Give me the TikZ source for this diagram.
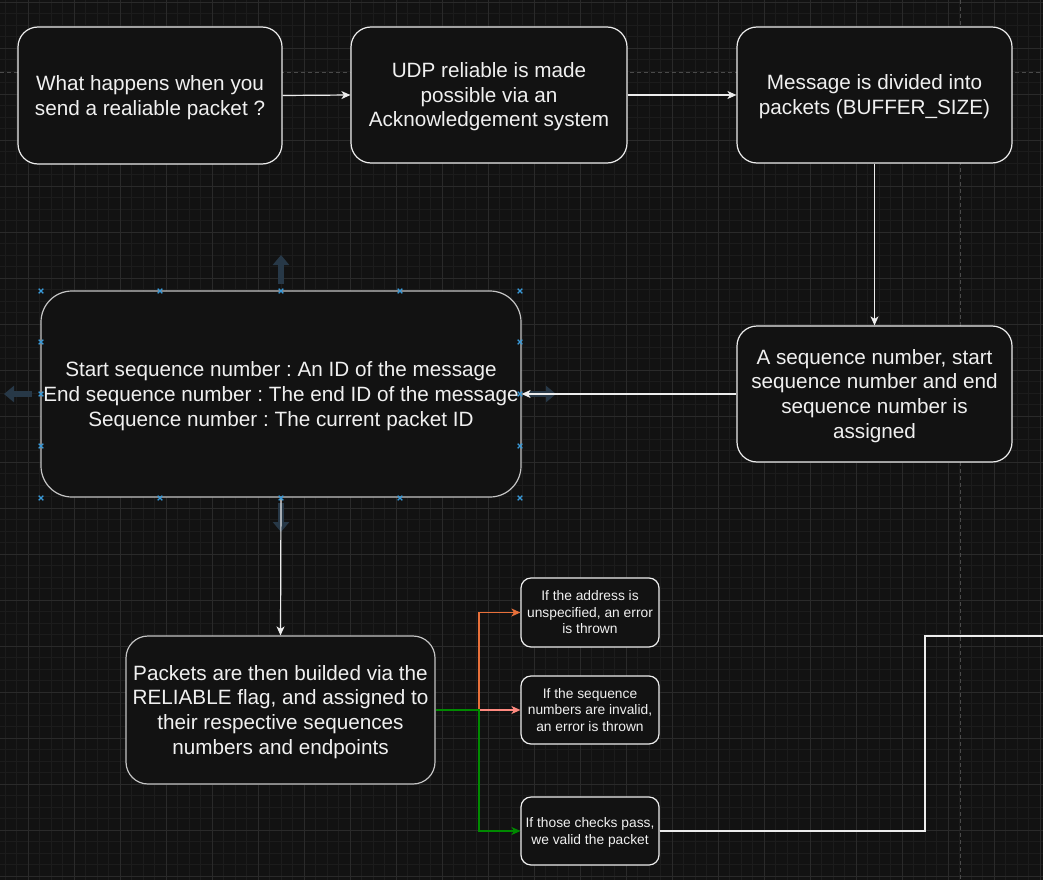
\documentclass[tikz,border=0pt]{standalone}
\usepackage{fontspec}
\setmainfont{Liberation Sans}
\usetikzlibrary{arrows.meta}
\frenchspacing
\definecolor{bg}{HTML}{121212}
\definecolor{gridminor}{HTML}{1C1C1C}
\definecolor{gridmajor}{HTML}{2A2A2A}
\definecolor{guide}{HTML}{4A4A4A}
\definecolor{stroke}{HTML}{EDEDED}
\definecolor{strokesel}{HTML}{C4C4C4}
\definecolor{txt}{HTML}{F0F0F0}
\definecolor{orangeedge}{HTML}{E8703A}
\definecolor{pinkedge}{HTML}{FF8A80}
\definecolor{greenedge}{HTML}{008A00}
\definecolor{handlecol}{HTML}{3A9AD9}
\definecolor{hintcol}{HTML}{273847}
\newcommand{\bT}{\rule{0pt}{19.6pt}}
\newcommand{\bB}{\rule[-5.2pt]{0pt}{0pt}}
\newcommand{\sT}{\rule{0pt}{13pt}}
\newcommand{\sB}{\rule[-3.5pt]{0pt}{0pt}}
\tikzset{
  box/.style={draw=stroke, fill=bg, line width=1.2pt, align=center, inner sep=0pt, text=txt},
  bigtext/.style={font=\fontsize{20.7}{24.8}\selectfont},
  smalltext/.style={font=\fontsize{13.8}{16.5}\selectfont},
  arr/.style={draw=stroke, line width=1.2pt, -{Stealth[length=9pt,width=8pt,inset=2.5pt]}},
  hint/.style={draw=hintcol, line width=6pt, -{Triangle[length=10pt,width=16pt]}},
  hx/.pic={\draw[handlecol, line width=1.3pt] (-2.3,-2.3)--(2.3,2.3) (-2.3,2.3)--(2.3,-2.3);}
}
\begin{document}
\begin{tikzpicture}[x=1pt,y=-1pt]
\useasboundingbox (0,0) rectangle (1043,880);
\clip (0,0) rectangle (1043,880);
\fill[bg] (0,0) rectangle (1043,880);
% grid
\foreach \k in {0,...,91} {\draw[gridminor, line width=0.8pt] (5+11.5*\k,0) -- (5+11.5*\k,880);}
\foreach \k in {0,...,77} {\draw[gridminor, line width=0.8pt] (0,2+11.5*\k) -- (1043,2+11.5*\k);}
\foreach \k in {-1,...,22} {\draw[gridmajor, line width=0.8pt] (28+46*\k,0) -- (28+46*\k,880);}
\foreach \k in {0,...,19} {\draw[gridmajor, line width=0.8pt] (0,2+46*\k) -- (1043,2+46*\k);}
% guides
\draw[guide, line width=0.8pt, dash pattern=on 4pt off 3pt] (0,72) -- (1043,72);
\draw[guide, line width=0.8pt, dash pattern=on 4pt off 3pt] (960,0) -- (960,880);
% hint arrows
\draw[hint] (281,284) -- (281,255);
\draw[hint] (32,394) -- (4,394);
\draw[hint] (528,394) -- (556,394);
\draw[hint] (281,503) -- (281,532);
% nodes
\node[box, bigtext, rounded corners=20pt, minimum width=264pt, minimum height=137pt] (A) at (150,95.5) {\bT What happens when you\\send a realiable packet ?\bB};
\node[box, bigtext, rounded corners=20pt, minimum width=276pt, minimum height=136pt] (B) at (489,95) {\bT UDP reliable is made\\possible via an\\Acknowledgement system\bB};
\node[box, bigtext, rounded corners=20pt, minimum width=275pt, minimum height=136pt] (C) at (874.5,95) {\bT Message is divided into\\packets (BUFFER\_SIZE)\bB};
\node[box, bigtext, rounded corners=20pt, minimum width=275pt, minimum height=136pt] (D) at (874.5,394) {\bT A sequence number, start\\sequence number and end\\sequence number is\\assigned\bB};
\node[box, bigtext, draw=strokesel, rounded corners=31pt, minimum width=480pt, minimum height=206pt] (E) at (281,394) {\bT Start sequence number : An ID of the message\\End sequence number : The end ID of the message\\Sequence number : The current packet ID\bB};
\node[box, bigtext, draw=strokesel, rounded corners=22pt, minimum width=309pt, minimum height=148pt] (F) at (280.5,710) {\bT Packets are then builded via the\\RELIABLE flag, and assigned to\\their respective sequences\\numbers and endpoints\bB};
\node[box, smalltext, rounded corners=10pt, minimum width=138pt, minimum height=69pt] (G1) at (590,612.5) {\sT If the address is\\unspecified, an error\\is thrown\sB};
\node[box, smalltext, rounded corners=10pt, minimum width=138pt, minimum height=68pt] (G2) at (590,710) {\sT If the sequence\\numbers are invalid,\\an error is thrown\sB};
\node[box, smalltext, rounded corners=10pt, minimum width=138pt, minimum height=68pt] (G3) at (590,831) {\sT If those checks pass,\\we valid the packet\sB};
% connectors
\coordinate (J) at (479,710);
\coordinate (T) at (925,831);
\coordinate (off) at (1060,636);
\draw[arr] (A.east) -- (B.west);
\draw[arr] (B.east) -- (C.west);
\draw[arr] (C.south) -- (D.north);
\draw[arr] (D.west) -- (E.east);
\draw[arr] (E.south) -- (F.north);
\draw[arr, draw=orangeedge, -{Stealth[length=9pt,width=8pt,inset=2.5pt,color=orangeedge]}] (F.east) -- (J) |- (G1.west);
\draw[arr, draw=pinkedge, -{Stealth[length=9pt,width=8pt,inset=2.5pt,color=pinkedge]}] (F.east) -- (G2.west);
\draw[arr, draw=greenedge, -{Stealth[length=9pt,width=8pt,inset=2.5pt,color=greenedge]}] (F.east) -- (J) |- (G3.west);
\draw[draw=stroke, line width=1.2pt] (G3.east) -- (T) |- (off);
% selection handles
\foreach \p in {(41,291),(160,291),(281,291),(400,291),(520,291),(41,498),(160,498),(281,498),(400,498),(520,498),(41,342),(41,394),(41,446),(520,342),(520,394),(520,446)} {\path \p pic {hx};}
\end{tikzpicture}
\end{document}
